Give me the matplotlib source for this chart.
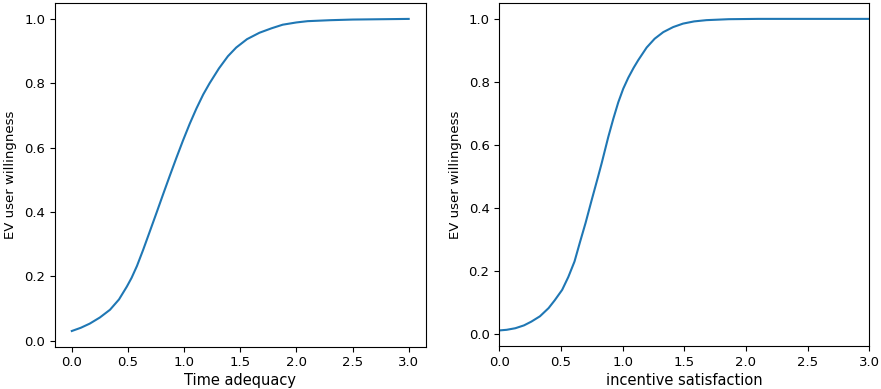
import matplotlib
matplotlib.use('Agg')
import matplotlib.pyplot as plt

# left panel: willingness vs time adequacy
time_x = [0.0, 0.08, 0.16, 0.25, 0.34, 0.42, 0.49, 0.532, 0.58, 0.635, 0.69,
          0.754, 0.812, 0.872, 0.93, 0.99, 1.05, 1.109, 1.17, 1.227, 1.31,
          1.39, 1.464, 1.56, 1.671, 1.78, 1.878, 2.0, 2.1, 2.3, 2.5, 2.75, 3.0]
time_y = [0.030, 0.040, 0.053, 0.072, 0.096, 0.128, 0.168, 0.195, 0.232,
          0.282, 0.335, 0.397, 0.454, 0.512, 0.567, 0.622, 0.674, 0.721,
          0.765, 0.800, 0.846, 0.884, 0.911, 0.937, 0.957, 0.971, 0.982,
          0.989, 0.993, 0.996, 0.998, 0.999, 1.0]

# right panel: willingness vs incentive satisfaction
inc_x = [0.0, 0.06, 0.13, 0.2, 0.26, 0.33, 0.40, 0.45, 0.51, 0.56, 0.61,
         0.654, 0.70, 0.749, 0.80, 0.83, 0.884, 0.925, 0.965, 1.005, 1.046,
         1.09, 1.127, 1.195, 1.26, 1.33, 1.41, 1.49, 1.58, 1.68, 1.86, 2.1,
         2.5, 3.0]
inc_y = [0.010, 0.012, 0.017, 0.026, 0.038, 0.055, 0.081, 0.106, 0.139,
         0.180, 0.229, 0.290, 0.352, 0.424, 0.497, 0.541, 0.625, 0.683,
         0.735, 0.778, 0.813, 0.845, 0.869, 0.909, 0.937, 0.958, 0.974,
         0.985, 0.992, 0.996, 0.999, 1.0, 1.0, 1.0]

plt.rcParams['font.size'] = 9.5

fig = plt.figure(figsize=(8.81, 3.89), dpi=100)
ax1 = fig.add_axes([0.0624, 0.109, 0.4206, 0.8825])
ax2 = fig.add_axes([0.5667, 0.1105, 0.42, 0.881])

ax1.plot(time_x, time_y, color='#1f77b4', lw=1.5)
ax1.set_xlabel('Time adequacy', fontsize=10.5, labelpad=3)
ax1.set_ylabel('EV user willingness', labelpad=5)
ax1.set_xticks([0.0, 0.5, 1.0, 1.5, 2.0, 2.5, 3.0])
ax1.set_yticks([0.0, 0.2, 0.4, 0.6, 0.8, 1.0])

ax2.plot(inc_x, inc_y, color='#1f77b4', lw=1.5)
ax2.set_xlim(0, 3)
ax2.set_xlabel('incentive satisfaction', fontsize=10.5, labelpad=3)
ax2.set_ylabel('EV user willingness', labelpad=5)
ax2.set_xticks([0.0, 0.5, 1.0, 1.5, 2.0, 2.5, 3.0])
ax2.set_yticks([0.0, 0.2, 0.4, 0.6, 0.8, 1.0])

fig.savefig('out.png', dpi=100)
